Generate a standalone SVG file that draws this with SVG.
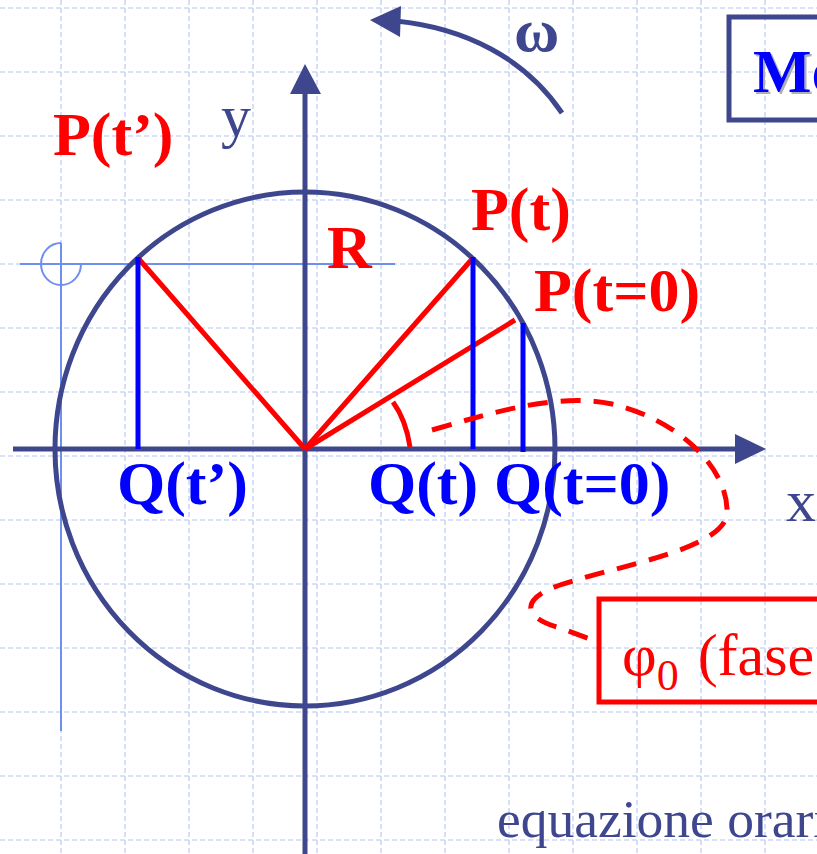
<svg xmlns="http://www.w3.org/2000/svg" width="817" height="854" viewBox="0 0 817 854">
<defs>
<style>
.grid line{stroke:#ccd8f9;stroke-width:1.6;stroke-dasharray:5 3}
.navy{stroke:#3e468e;fill:none}
.lb{stroke:#6f8ff0;fill:none;stroke-width:2}
.red{stroke:#ff0000;fill:none}
.blue{stroke:#0000ff;fill:none}
.tb{font-family:"Liberation Serif","Times New Roman",serif;font-weight:bold;font-size:62px}
.tr{font-family:"Liberation Serif","Times New Roman",serif;font-size:60px}
.foot{font-size:53.5px}
</style>
<filter id="shadow" x="-10%" y="-10%" width="130%" height="130%">
<feOffset in="SourceAlpha" dx="2" dy="2" result="off"/>
<feFlood flood-color="#b0b0b0"/>
<feComposite in2="off" operator="in" result="sh"/>
<feMerge><feMergeNode in="sh"/><feMergeNode in="SourceGraphic"/></feMerge>
</filter>
</defs>
<rect width="817" height="854" fill="#ffffff"/>
<g class="grid">
<line x1="61" y1="0" x2="61" y2="854"/><line x1="125" y1="0" x2="125" y2="854"/><line x1="189" y1="0" x2="189" y2="854"/><line x1="253" y1="0" x2="253" y2="854"/><line x1="317" y1="0" x2="317" y2="854"/><line x1="381" y1="0" x2="381" y2="854"/><line x1="445" y1="0" x2="445" y2="854"/><line x1="509" y1="0" x2="509" y2="854"/><line x1="573" y1="0" x2="573" y2="854"/><line x1="637" y1="0" x2="637" y2="854"/><line x1="701" y1="0" x2="701" y2="854"/><line x1="765" y1="0" x2="765" y2="854"/>
<line x1="0" y1="8" x2="817" y2="8"/><line x1="0" y1="72" x2="817" y2="72"/><line x1="0" y1="136" x2="817" y2="136"/><line x1="0" y1="200" x2="817" y2="200"/><line x1="0" y1="264" x2="817" y2="264"/><line x1="0" y1="328" x2="817" y2="328"/><line x1="0" y1="392" x2="817" y2="392"/><line x1="0" y1="456" x2="817" y2="456"/><line x1="0" y1="520" x2="817" y2="520"/><line x1="0" y1="584" x2="817" y2="584"/><line x1="0" y1="648" x2="817" y2="648"/><line x1="0" y1="712" x2="817" y2="712"/><line x1="0" y1="776" x2="817" y2="776"/><line x1="0" y1="840" x2="817" y2="840"/>
</g>
<g id="guides">
<line class="lb" x1="20" y1="264" x2="395" y2="264"/>
<line class="lb" x1="61" y1="243" x2="61" y2="731"/>
<path class="lb" d="M 61 243 A 20 21 0 1 0 81 264"/>
</g>
<g id="axes">
<line class="navy" x1="13" y1="449" x2="740" y2="449" stroke-width="5"/>
<polygon points="766,449 735,434 735,464" fill="#3e468e"/>
<line class="navy" x1="305" y1="854" x2="305" y2="90" stroke-width="5"/>
<polygon points="305,64 290,94 321,94" fill="#3e468e"/>
<text class="tr" x="221" y="136" fill="#3e468e">y</text>
<text class="tr" x="786" y="521" fill="#3e468e">x</text>
</g>
<g id="circle">
<ellipse class="navy" cx="305" cy="449" rx="250" ry="257" stroke-width="5"/>
</g>
<g id="omega">
<path class="navy" d="M 396 21 C 465 28, 525 58, 562 113" stroke-width="5"/>
<polygon points="370,20 401,6 400,37" fill="#3e468e"/>
<text class="tb" x="514" y="51" fill="#3e468e">ω</text>
</g>
<g id="radii">
<line class="red" x1="138" y1="258" x2="305" y2="449" stroke-width="5"/>
<line class="red" x1="473" y1="258" x2="305" y2="449" stroke-width="5"/>
<line class="red" x1="515" y1="320" x2="305" y2="449" stroke-width="5"/>
<path class="red" d="M 393 402 Q 406 420 410 447" stroke-width="5"/>
</g>
<g id="projections">
<line class="blue" x1="138" y1="257" x2="138" y2="449" stroke-width="5"/>
<line class="blue" x1="473" y1="257" x2="473" y2="449" stroke-width="5"/>
<line class="blue" x1="523" y1="323" x2="523" y2="452" stroke-width="5"/>
</g>
<g id="labels">
<text class="tb" x="53" y="155" fill="#ff0000">P(t’)</text>
<text class="tb" x="471" y="230" fill="#ff0000">P(t)</text>
<text class="tb" x="534" y="311" fill="#ff0000">P(t=0)</text>
<text class="tb" x="327" y="268" fill="#ff0000">R</text>
<text class="tb" x="117" y="504" fill="#0000ff">Q(t’)</text>
<text class="tb" x="368" y="504" fill="#0000ff">Q(t)</text>
<text class="tb" x="494" y="504" fill="#0000ff">Q(t=0)</text>
</g>
<g id="connectors">
<path class="red" d="M 432 430 C 500 410, 560 393, 612 404 C 680 420, 730 470, 727 515 C 720 550, 620 565, 560 585 C 522 598, 520 617, 560 628 L 598 642" stroke-width="5" stroke-dasharray="20 13"/>
</g>
<g id="box-mo">
<rect class="navy" x="729" y="17" width="120" height="103" stroke-width="5"/>
<text class="tb" x="753" y="92" fill="#0000ff" filter="url(#shadow)">Mo</text>
</g>
<g id="box-phase">
<rect class="red" x="599" y="599" width="250" height="103" stroke-width="5"/>
<text class="tr" x="622" y="675" fill="#ff0000">φ<tspan font-size="44" dy="15">0</tspan><tspan dy="-15" dx="4"> (fase</tspan></text>
</g>
<g id="footer">
<text class="tr foot" x="497" y="837" fill="#3e468e">equazione orari</text>
</g>
</svg>
